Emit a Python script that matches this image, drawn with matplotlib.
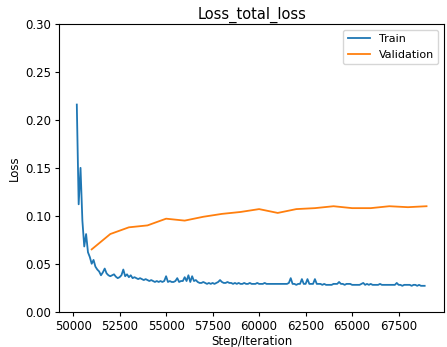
import matplotlib
matplotlib.use("Agg")
import matplotlib.pyplot as plt

# Training loss, recorded every 100 steps starting at step 50200
train_start = 50200
train_interval = 100
train_loss = [
    0.216, 0.112, 0.150, 0.095, 0.068, 0.081, 0.062, 0.057, 0.050, 0.054,
    0.047, 0.044, 0.042, 0.038, 0.041, 0.045, 0.040, 0.038, 0.037, 0.038,
    0.039, 0.0365, 0.035, 0.036, 0.038, 0.044, 0.037, 0.039, 0.036, 0.038,
    0.035, 0.036, 0.035, 0.034, 0.035, 0.034, 0.033, 0.034, 0.033, 0.032,
    0.033, 0.032, 0.031, 0.032, 0.031, 0.032, 0.031, 0.032, 0.037, 0.031,
    0.032, 0.031, 0.031, 0.032, 0.035, 0.031, 0.032, 0.032, 0.036, 0.032,
    0.038, 0.031, 0.037, 0.032, 0.033, 0.031, 0.030, 0.030, 0.031, 0.030,
    0.029, 0.030, 0.029, 0.030, 0.029, 0.030, 0.031, 0.033, 0.031, 0.030,
    0.030, 0.031, 0.030, 0.030, 0.029, 0.030, 0.029, 0.030, 0.029, 0.029,
    0.030, 0.029, 0.029, 0.030, 0.029, 0.029, 0.029, 0.030, 0.029, 0.029,
    0.029, 0.030, 0.029, 0.029, 0.029, 0.029, 0.029, 0.029, 0.029, 0.029,
    0.029, 0.029, 0.029, 0.029, 0.030, 0.035, 0.029, 0.029, 0.028, 0.029,
    0.029, 0.034, 0.029, 0.029, 0.034, 0.029, 0.029, 0.029, 0.034, 0.029,
    0.029, 0.029, 0.028, 0.029, 0.028, 0.028, 0.028, 0.028, 0.029, 0.029,
    0.029, 0.031, 0.029, 0.029, 0.028, 0.029, 0.029, 0.029, 0.028, 0.028,
    0.028, 0.028, 0.028, 0.029, 0.030, 0.028, 0.029, 0.028, 0.029, 0.028,
    0.028, 0.028, 0.028, 0.029, 0.028, 0.028, 0.028, 0.028, 0.028, 0.028,
    0.028, 0.028, 0.030, 0.028, 0.028, 0.027, 0.028, 0.028, 0.028, 0.028,
    0.027, 0.028, 0.028, 0.027, 0.028, 0.027, 0.027, 0.027,
]
train_steps = [train_start + train_interval * i for i in range(len(train_loss))]

# Validation loss, every 1000 steps
val_steps = [51000, 52000, 53000, 54000, 55000, 56000, 57000, 58000, 59000, 60000,
             61000, 62000, 63000, 64000, 65000, 66000, 67000, 68000, 69000]
val_loss = [0.065, 0.081, 0.088, 0.090, 0.097, 0.095, 0.099, 0.102, 0.104, 0.107,
            0.103, 0.107, 0.108, 0.110, 0.108, 0.108, 0.110, 0.109, 0.110]

plt.rcParams.update({
    "font.size": 8.5,
    "axes.titlesize": 10.5,
    "axes.labelsize": 8.5,
    "xtick.labelsize": 8.5,
    "ytick.labelsize": 8.5,
    "legend.fontsize": 8,
    "xtick.major.size": 3.2,
    "ytick.major.size": 3.2,
    "xtick.major.pad": 2.5,
    "ytick.major.pad": 2.5,
})

fig = plt.figure(figsize=(4.47, 3.47), dpi=100)
ax = fig.add_axes([0.1327, 0.1017, 0.8606, 0.8291])
ax.plot(train_steps, train_loss, color="#1f77b4", lw=1.3, label="Train")
ax.plot(val_steps, val_loss, color="#ff7f0e", lw=1.3, label="Validation")
ax.set_ylim(0, 0.30)
ax.set_xticks([50000, 52500, 55000, 57500, 60000, 62500, 65000, 67500])
ax.set_title("Loss_total_loss", pad=4)
ax.set_xlabel("Step/Iteration", labelpad=1.5)
ax.set_ylabel("Loss", labelpad=3)
ax.legend(loc="upper right")
fig.savefig("out.png", dpi=100)
